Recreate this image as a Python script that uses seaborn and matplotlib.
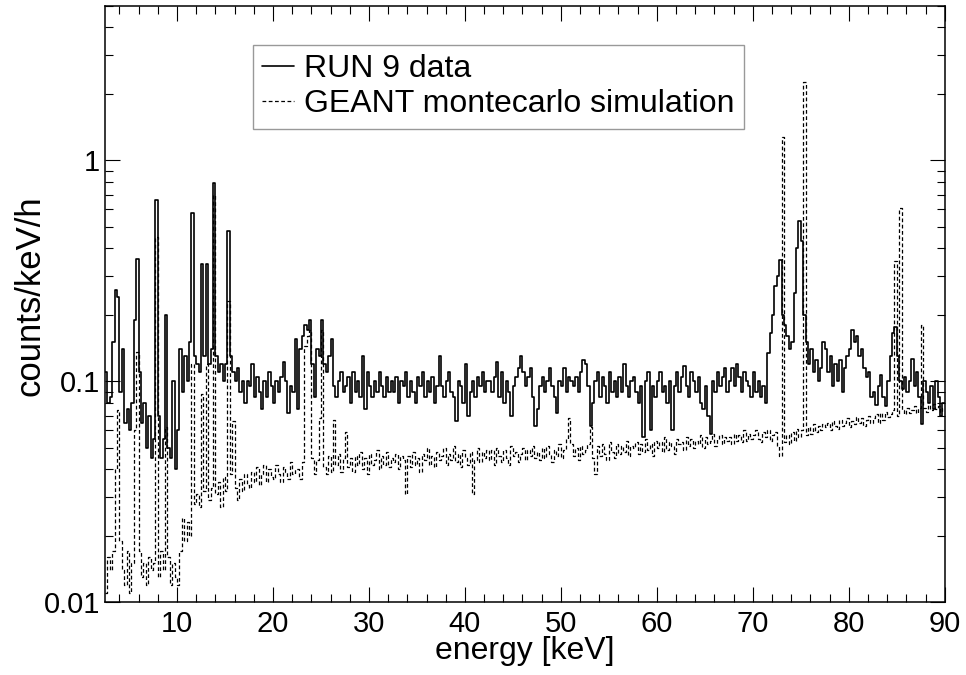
import numpy as np
import pandas as pd
import matplotlib
matplotlib.use("Agg")
import matplotlib.pyplot as plt
import seaborn as sns
from matplotlib.ticker import FixedLocator, FuncFormatter, LogLocator, NullFormatter, MultipleLocator

# ---------------- data (counts/keV/h, in units of 1e-3) ----------------
# energy bins: 0.25 keV wide, from 2.5 keV to 90 keV (350 bins)
bin_low_keV = 2.5
bin_high_keV = 90.0
bin_width_keV = 0.25

run9_milli = [
    110, 80, 85, 150, 260, 240, 90, 140, 65, 75, 60, 80, 190, 360, 110, 65, 80, 50, 70, 45,
    55, 660, 70, 45, 55, 200, 50, 45, 100, 40, 60, 140, 90, 130, 100, 150, 580, 130, 120, 110,
    340, 130, 340, 120, 140, 790, 130, 110, 120, 100, 120, 480, 130, 110, 100, 115, 90, 100, 80, 100,
    95, 120, 85, 105, 90, 75, 100, 85, 110, 95, 80, 100, 90, 105, 123, 100, 72, 95, 90, 155,
    75, 140, 160, 180, 170, 190, 120, 85, 140, 130, 190, 120, 110, 130, 155, 95, 85, 100, 110, 90,
    95, 105, 80, 110, 90, 100, 85, 130, 75, 110, 95, 85, 100, 90, 110, 95, 85, 105, 90, 100,
    90, 105, 80, 100, 95, 110, 85, 100, 90, 80, 105, 95, 110, 85, 100, 90, 105, 80, 95, 130,
    95, 85, 100, 110, 90, 85, 66, 100, 95, 80, 120, 70, 90, 100, 85, 105, 95, 110, 90, 100,
    100, 90, 105, 122, 85, 110, 80, 100, 90, 70, 95, 105, 115, 130, 110, 95, 105, 115, 85, 63,
    75, 95, 105, 90, 100, 115, 95, 85, 72, 100, 95, 115, 90, 105, 100, 95, 105, 90, 110, 125,
    120, 95, 63, 80, 100, 110, 85, 105, 95, 80, 110, 90, 100, 85, 105, 90, 120, 95, 85, 100,
    105, 90, 80, 95, 56, 100, 110, 60, 95, 85, 100, 110, 90, 95, 80, 100, 60, 95, 110, 90,
    105, 117, 95, 85, 110, 100, 90, 105, 80, 75, 95, 70, 58, 100, 90, 110, 95, 105, 115, 90,
    100, 115, 95, 120, 105, 90, 110, 100, 95, 85, 110, 90, 100, 85, 95, 80, 135, 165, 200, 270,
    300, 355, 200, 180, 160, 140, 150, 250, 400, 530, 430, 200, 150, 120, 140, 110, 125, 100, 115, 150,
    140, 110, 130, 95, 120, 100, 125, 90, 115, 130, 140, 170, 150, 160, 130, 140, 115, 105, 110, 85,
    90, 78, 95, 107, 85, 77, 100, 130, 165, 177, 130, 100, 92, 105, 90, 100, 126, 95, 110, 85,
    64, 100, 90, 80, 95, 75, 100, 85, 70, 80,
]

geant_milli = [
    11, 16, 14, 17, 40, 74, 19, 14, 12, 17, 11, 15, 60, 136, 17, 13, 15, 12, 16, 14,
    15, 450, 13, 17, 14, 62, 16, 12, 15, 13, 12, 17, 24, 19, 23, 20, 120, 28, 31, 27,
    88, 32, 120, 29, 33, 700, 31, 35, 27, 37, 32, 230, 38, 66, 33, 29, 36, 32, 38, 34,
    33, 39, 35, 41, 34, 38, 42, 35, 40, 37, 36, 42, 38, 35, 41, 39, 36, 43, 38, 40,
    40, 36, 43, 144, 160, 170, 45, 38, 44, 68, 171, 41, 38, 46, 39, 67, 42, 47, 39, 45,
    59, 41, 45, 39, 46, 42, 48, 40, 45, 38, 47, 42, 44, 49, 40, 46, 42, 48, 41, 45,
    43, 47, 40, 46, 44, 31, 46, 41, 48, 42, 45, 39, 47, 44, 50, 42, 46, 41, 48, 44,
    46, 50, 42, 47, 44, 51, 43, 47, 41, 49, 45, 42, 48, 31, 44, 50, 43, 48, 45, 49,
    44, 49, 42, 50, 46, 43, 49, 45, 42, 51, 46, 48, 43, 47, 50, 44, 49, 46, 51, 45,
    48, 44, 50, 45, 51, 47, 43, 49, 46, 52, 45, 49, 55, 68, 52, 46, 50, 44, 51, 47,
    49, 52, 62, 45, 38, 51, 46, 52, 47, 44, 53, 48, 45, 52, 47, 51, 48, 54, 46, 51,
    50, 53, 47, 52, 48, 55, 49, 52, 46, 54, 50, 53, 48, 56, 49, 53, 51, 47, 55, 52,
    53, 49, 56, 51, 55, 50, 54, 52, 57, 50, 56, 52, 54, 58, 51, 55, 57, 52, 56, 54,
    56, 52, 58, 54, 57, 53, 60, 54, 58, 55, 57, 60, 55, 53, 59, 56, 60, 54, 57, 59,
    51, 46, 1280, 53, 57, 52, 59, 54, 61, 56, 60, 2270, 57, 62, 58, 64, 59, 63, 60, 64,
    62, 65, 60, 66, 63, 61, 67, 63, 65, 68, 62, 66, 64, 69, 65, 68, 63, 67, 70, 65,
    68, 71, 65, 72, 67, 73, 69, 71, 74, 350, 70, 610, 74, 71, 76, 72, 74, 77, 72, 76,
    180, 76, 73, 78, 74, 79, 75, 77, 73, 76,
]

series_labels = ["RUN 9 data", "GEANT montecarlo simulation"]
x_tick_values = [10, 20, 30, 40, 50, 60, 70, 80, 90]
y_tick_values = [0.01, 0.1, 1]
x_label = "energy [keV]"
y_label = "counts/keV/h"

# ---------------- build frames ----------------
edges = np.arange(bin_low_keV, bin_high_keV + bin_width_keV / 2, bin_width_keV)
run9 = np.array(run9_milli, dtype=float) / 1000.0
geant = np.array(geant_milli, dtype=float) / 1000.0
assert len(run9) == len(edges) - 1 and len(geant) == len(edges) - 1

df_run = pd.DataFrame({"energy": edges, "rate": np.append(run9, run9[-1])})
df_sim = pd.DataFrame({"energy": edges, "rate": np.append(geant, geant[-1])})

# ---------------- style ----------------
sns.set_style("ticks")
plt.rcParams["font.family"] = ["Liberation Sans", "DejaVu Sans"]
for key in ["text.color", "axes.labelcolor", "xtick.color", "ytick.color", "axes.edgecolor"]:
    plt.rcParams[key] = "black"

fig, ax = plt.subplots(figsize=(9.66, 6.75), dpi=100)
fig.subplots_adjust(left=0.1087, right=0.978, bottom=0.1077, top=0.991)

sns.lineplot(data=df_run, x="energy", y="rate", drawstyle="steps-post", color="black",
             lw=1.2, estimator=None, ax=ax, label=series_labels[0])
sns.lineplot(data=df_sim, x="energy", y="rate", drawstyle="steps-post", color="black",
             lw=0.9, estimator=None, ax=ax, label=series_labels[1], linestyle=(0, (3, 2)))

ax.set_yscale("log")
ax.set_xlim(bin_low_keV, bin_high_keV)
ax.set_ylim(0.01, 5.0)

ax.xaxis.set_major_locator(FixedLocator(x_tick_values))
ax.xaxis.set_major_formatter(FuncFormatter(lambda v, p: f"{v:g}"))
ax.xaxis.set_minor_locator(MultipleLocator(2))
ax.yaxis.set_major_locator(FixedLocator(y_tick_values))
ax.yaxis.set_major_formatter(FuncFormatter(lambda v, p: f"{v:g}"))
ax.yaxis.set_minor_locator(LogLocator(base=10, subs=np.arange(2, 10)))
ax.yaxis.set_minor_formatter(NullFormatter())

ax.tick_params(which="both", direction="in", top=True, right=True, colors="black",
               labelcolor="black", labelsize=21, width=0.8)
ax.tick_params(which="major", length=11)
ax.tick_params(which="minor", length=6)
ax.tick_params(axis="x", which="major", pad=5.5)
ax.tick_params(axis="y", which="major", pad=3.5)
for sp in ax.spines.values():
    sp.set_linewidth(1.1)
    sp.set_color("black")

ax.set_xlabel(x_label, fontsize=23, color="black")
ax.set_ylabel(y_label, fontsize=25, color="black")
ax.xaxis.set_label_coords(0.5, -0.057)
ax.yaxis.set_label_coords(-0.070, 0.515)

leg = ax.legend(loc="upper left", bbox_to_anchor=(0.176, 0.935), frameon=True,
                fancybox=False, edgecolor="#999999", framealpha=1, fontsize=23,
                handlelength=1.0, handletextpad=0.3, labelspacing=0.15,
                borderpad=0.3, borderaxespad=0)
leg.get_frame().set_linewidth(1.0)
for t in leg.get_texts():
    t.set_color("black")

fig.savefig("out.png", dpi=100)
